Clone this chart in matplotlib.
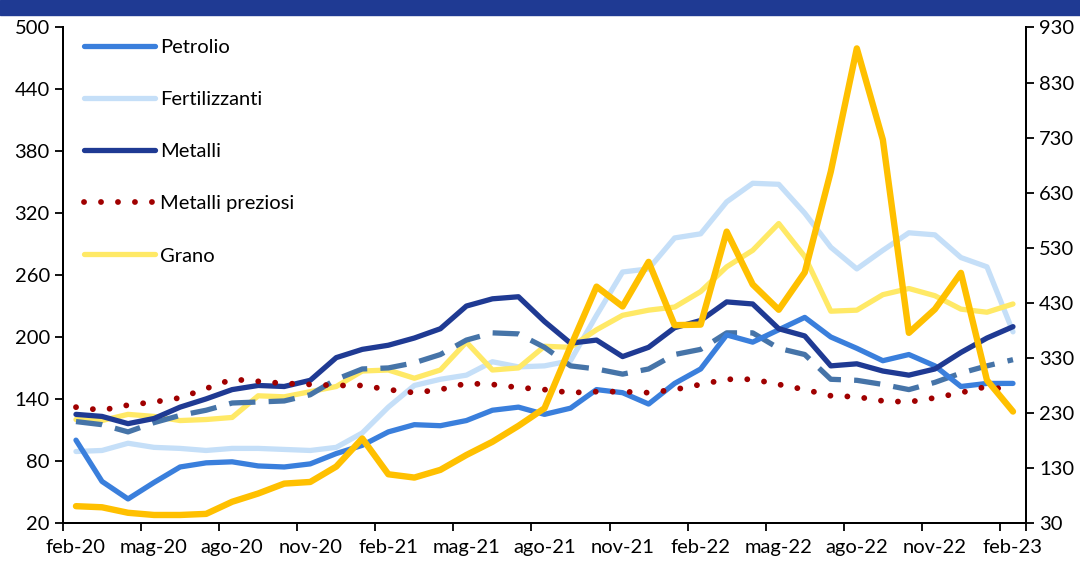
import matplotlib.pyplot as plt
from matplotlib.patches import Rectangle

plt.rcParams['font.family'] = ['Lato', 'DejaVu Sans']

# etichette dell'asse x (una ogni 3 mesi, da feb-20 a feb-23)
tick_labels = ['feb-20', 'mag-20', 'ago-20', 'nov-20', 'feb-21', 'mag-21', 'ago-21',
               'nov-21', 'feb-22', 'mag-22', 'ago-22', 'nov-22', 'feb-23']

# serie sull'asse di sinistra
petrolio = [100, 60, 43, 59, 74, 78, 79, 75, 74, 77, 87, 95, 108, 115, 114, 119, 129, 132,
            125, 131, 149, 146, 135, 155, 169, 202, 195, 207, 219, 200, 189, 177, 183, 172,
            152, 155, 155]
fertilizzanti = [89, 90, 97, 93, 92, 90, 92, 92, 91, 90, 93, 107, 132, 153, 159, 163, 176, 171,
                 172, 177, 221, 263, 266, 296, 300, 331, 349, 348, 320, 287, 266, 284, 301,
                 299, 277, 268, 205]
metalli = [125, 123, 116, 121, 132, 140, 149, 153, 152, 158, 180, 188, 192, 199, 208, 230,
           237, 239, 215, 194, 197, 181, 190, 209, 216, 234, 232, 208, 201, 172, 174, 167,
           163, 169, 185, 199, 210]
metalli_preziosi = [132, 129, 134, 137, 141, 150, 159, 157, 155, 154, 153, 153, 149, 146, 149,
                    155, 154, 151, 149, 146, 147, 147, 146, 149, 154, 159, 159, 154, 149, 143,
                    142, 138, 137, 141, 146, 152, 148]
grano = [120, 119, 125, 123, 119, 120, 122, 143, 142, 147, 152, 167, 168, 160, 168, 195, 168,
         170, 191, 190, 207, 221, 226, 229, 244, 268, 284, 310, 278, 225, 226, 241, 247, 240,
         227, 224, 232]
serie_tratteggiata = [118, 115, 108, 117, 124, 129, 136, 137, 138, 144, 159, 169, 170, 175, 183,
                      197, 204, 203, 190, 172, 169, 164, 169, 183, 188, 204, 204, 189, 183, 159,
                      158, 154, 149, 156, 165, 172, 178]

# serie sull'asse di destra
serie_destra = [60, 58, 48, 44, 44, 46, 68, 83, 101, 104, 132, 183, 118, 112, 126, 153, 177,
                206, 238, 350, 459, 423, 504, 389, 390, 559, 463, 417, 485, 668, 892, 726, 375,
                418, 484, 289, 232]

x = list(range(len(petrolio)))

fig = plt.figure(figsize=(10.8, 5.61), dpi=100)
ax = fig.add_axes([0.0583, 0.0683, 0.8917, 0.8827])
ax2 = ax.twinx()

# banda del titolo in alto
fig.patches.append(Rectangle((0, 1 - 15 / 561), 1, 15 / 561, transform=fig.transFigure,
                             color='#1f3a93', zorder=0))

ax.plot(x, fertilizzanti, color='#c5dff8', lw=3.8, label='Fertilizzanti', solid_capstyle='round')
ax.plot(x, grano, color='#ffe966', lw=3.8, label='Grano', solid_capstyle='round')
ax.plot(x, serie_tratteggiata, color='#4674a8', lw=3.8, linestyle=(0, (5, 2.5)))
ax.plot(x, petrolio, color='#3a7fdc', lw=3.8, label='Petrolio', solid_capstyle='round')
ax.plot(x, metalli, color='#1f3a93', lw=3.8, label='Metalli', solid_capstyle='round')
ax.plot(x, metalli_preziosi, color='#a00000', lw=4.2, linestyle=(0, (0.01, 2.9)),
        dash_capstyle='round', label='Metalli preziosi')

ax2.plot(x, serie_destra, color='#ffc000', lw=4.6, solid_capstyle='round',
         solid_joinstyle='round')

ax.set_xlim(-0.5, len(x) - 0.5)
ax.set_ylim(20, 500)
ax.set_yticks(range(20, 501, 60))
ax2.set_ylim(30, 930)
ax2.set_yticks(range(30, 931, 100))

ax.set_xticks([i - 0.5 for i in range(0, len(x), 3)] + [len(x) - 0.5])
ax.set_xticklabels([])
ax.set_xticks(range(0, len(x), 3), minor=True)
ax.set_xticklabels(tick_labels, minor=True)
ax.tick_params(axis='x', which='minor', length=0, pad=12)
ax.tick_params(axis='x', which='major', length=6, width=1.3)

for a in (ax, ax2):
    a.tick_params(axis='y', length=6, width=1.3, labelsize=14.5)
    a.tick_params(axis='x', labelsize=14.5)
    a.spines['top'].set_visible(False)
    for s in ('left', 'right', 'bottom'):
        a.spines[s].set_linewidth(1.4)
ax.tick_params(axis='x', which='minor', labelsize=14.5)

handles, labels = ax.get_legend_handles_labels()
order = ['Petrolio', 'Fertilizzanti', 'Metalli', 'Metalli preziosi', 'Grano']
hmap = dict(zip(labels, handles))
ax.legend([hmap[k] for k in order], order, loc='upper left', bbox_to_anchor=(0.022, 0.977),
          frameon=False, fontsize=14.5, handlelength=3.5, handletextpad=0.25,
          labelspacing=1.74, borderpad=0, borderaxespad=0)

fig.savefig('out.png', dpi=100)
